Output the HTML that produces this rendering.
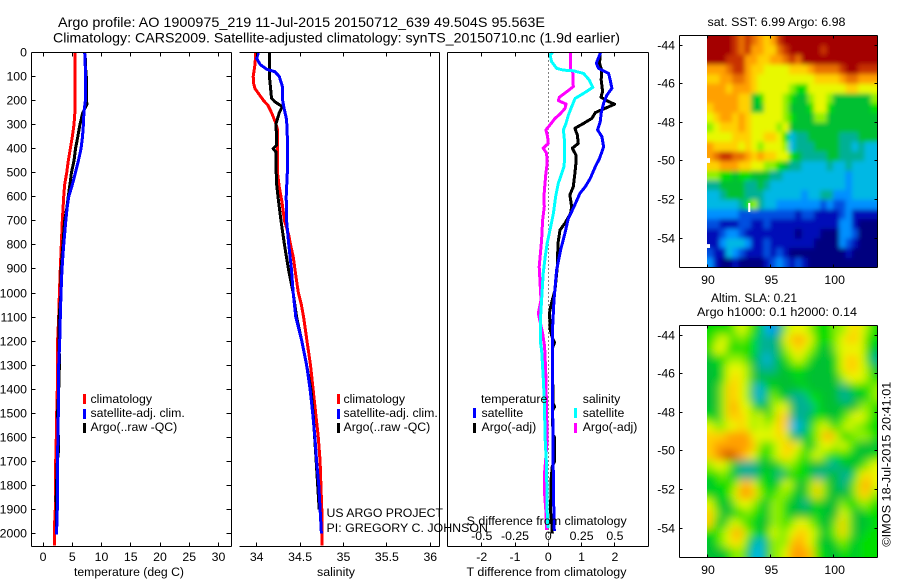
<!DOCTYPE html>
<html>
<head>
<meta charset="utf-8">
<title>Argo profile</title>
<style>
html,body{margin:0;padding:0;background:#fff;width:900px;height:580px;overflow:hidden}
svg{display:block}
text{font-family:"Liberation Sans",sans-serif;font-size:12.3px;fill:#000}
.ttl{font-size:14px}
</style>
</head>
<body>
<svg id="fig" xmlns="http://www.w3.org/2000/svg" width="900" height="580" viewBox="0 0 900 580">
<defs>
<filter id="blurSst" filterUnits="userSpaceOnUse" x="680" y="10" width="220" height="280"><feGaussianBlur stdDeviation="2.4"/></filter>
<filter id="blurSla" filterUnits="userSpaceOnUse" x="680" y="300" width="220" height="280"><feGaussianBlur stdDeviation="4.5"/></filter>
<clipPath id="clipSst"><rect x="707" y="35.5" width="170" height="232"/></clipPath>
<clipPath id="clipSla"><rect x="707" y="325" width="170" height="232"/></clipPath>
</defs>
<rect x="0" y="0" width="900" height="580" fill="#fff"/>
<text class="ttl" x="58" y="27" textLength="487" lengthAdjust="spacingAndGlyphs">Argo profile: AO 1900975_219 11-Jul-2015 20150712_639 49.504S 95.563E</text>
<text class="ttl" x="53" y="42.5" textLength="567" lengthAdjust="spacingAndGlyphs">Climatology: CARS2009. Satellite-adjusted climatology: synTS_20150710.nc (1.9d earlier)</text>
<g id="dyn"></g>

<text x="74" y="576" textLength="110" lengthAdjust="spacingAndGlyphs">temperature (deg C)</text>
<text x="317" y="576" textLength="38" lengthAdjust="spacingAndGlyphs">salinity</text>
<text x="466.5" y="576" textLength="160" lengthAdjust="spacingAndGlyphs">T difference from climatology</text>

<g>
<rect x="83" y="394" width="3" height="10" fill="#f00"/>
<text x="90.5" y="403">climatology</text>
<rect x="83" y="409" width="3" height="10" fill="#00f"/>
<text x="90.5" y="417">satellite-adj. clim.</text>
<rect x="83" y="423" width="3" height="10" fill="#000"/>
<text x="90.5" y="431">Argo(..raw -QC)</text>
</g>
<g>
<rect x="337" y="394" width="3" height="10" fill="#f00"/>
<text x="343.5" y="403">climatology</text>
<rect x="337" y="409" width="3" height="10" fill="#00f"/>
<text x="343.5" y="417">satellite-adj. clim.</text>
<rect x="337" y="423" width="3" height="10" fill="#000"/>
<text x="343.5" y="431">Argo(..raw -QC)</text>
</g>
<g>
<text x="481" y="403">temperature</text>
<rect x="473" y="408" width="3" height="10" fill="#00f"/>
<text x="481.5" y="417">satellite</text>
<rect x="473" y="423" width="3" height="10" fill="#000"/>
<text x="481.5" y="431">Argo(-adj)</text>
<text x="582.7" y="403">salinity</text>
<rect x="574" y="408" width="3" height="10" fill="#0ff"/>
<text x="582.7" y="417">satellite</text>
<rect x="574" y="423" width="3" height="10" fill="#f0f"/>
<text x="582.7" y="431">Argo(-adj)</text>
</g>

<text x="326.5" y="517" textLength="116.5" lengthAdjust="spacingAndGlyphs">US ARGO PROJECT</text>
<text x="326.5" y="532" textLength="161.5" lengthAdjust="spacingAndGlyphs">PI: GREGORY C. JOHNSON</text>
<text x="466.7" y="525" textLength="160" lengthAdjust="spacingAndGlyphs">S difference from climatology</text>

<text x="707.5" y="26" textLength="138" lengthAdjust="spacingAndGlyphs">sat. SST: 6.99 Argo: 6.98</text>
<text x="711" y="302" textLength="86" lengthAdjust="spacingAndGlyphs">Altim. SLA: 0.21</text>
<text x="697" y="316" textLength="160" lengthAdjust="spacingAndGlyphs">Argo h1000: 0.1 h2000: 0.14</text>
<text transform="translate(890.5 546.7) rotate(-90)" textLength="165" lengthAdjust="spacingAndGlyphs">©IMOS 18-Jul-2015 20:41:01</text>
</svg>

<script>
// ---------- temperature panel ----------
const tempClimDepth = [0,230,300,350,400,450,500,550,600,650,700,800,900,1000,1100,1200,1300,1400,1500,1600,1700,1800,1900,1950,2050];
const tempClimValue = [5.5,5.5,5.3,5.0,4.67,4.33,4.05,3.7,3.53,3.42,3.3,3.13,2.96,2.8,2.68,2.5,2.45,2.45,2.34,2.28,2.17,2.1,2.1,2.0,2.0];
const tempSatDepth = [0,100,200,250,300,350,400,450,500,550,600,650,700,800,900,1000,1100,1200,1300,1400,1500,1600,1700,1800,1900,2005];
const tempSatValue = [7.12,7.3,7.25,7.0,6.9,6.75,6.5,6.05,5.53,5.0,4.4,4.1,3.9,3.53,3.25,3.07,2.96,2.85,2.68,2.68,2.62,2.56,2.45,2.45,2.45,2.3];
const tempArgoDepth = [5,70,100,170,200,215,250,300,350,400,450,500,550,600,650,700,800,900,1000,1100,1200,1300,1400,1500,1650,1700,1850,1950,2000];
const tempArgoValue = [7.2,7.3,7.4,7.4,7.45,7.5,6.8,6.3,5.95,5.55,5.3,4.85,4.6,4.3,4.05,3.7,3.4,3.1,3.07,2.75,2.75,2.8,2.68,2.5,2.68,2.45,2.25,2.3,2.3];

// ---------- salinity panel ----------
const salClimDepth = [0,50,100,130,150,175,200,220,250,290,320,400,500,560,620,700,760,800,850,900,950,1000,1050,1100,1200,1300,1400,1500,1600,1700,1800,1900,2050];
const salClimValue = [33.99,33.98,33.96,33.965,33.98,34.03,34.08,34.13,34.17,34.215,34.24,34.24,34.24,34.26,34.29,34.32,34.37,34.39,34.42,34.44,34.46,34.48,34.515,34.54,34.58,34.62,34.65,34.68,34.71,34.73,34.74,34.75,34.75];
const salSatDepth = [0,25,50,70,80,100,140,200,230,280,350,500,600,700,800,900,1000,1100,1200,1300,1400,1500,1600,1700,1800,1900,2000];
const salSatValue = [34.02,34.0,34.04,34.115,34.21,34.26,34.295,34.3,34.315,34.345,34.353,34.353,34.34,34.345,34.37,34.40,34.42,34.45,34.52,34.575,34.615,34.645,34.67,34.69,34.715,34.73,34.745];
const salArgoDepth = [0,100,150,190,205,225,250,300,350,385,400,415,500,550,600,700,800,900,1000,1100,1200,1300,1400,1500,1700,1900];
const salArgoValue = [34.146,34.146,34.16,34.17,34.21,34.295,34.26,34.22,34.23,34.23,34.19,34.225,34.225,34.23,34.245,34.28,34.32,34.365,34.42,34.46,34.52,34.575,34.625,34.65,34.685,34.72];

// ---------- difference panel ----------
const dtSatDepth = [0,45,66,87,114,149,177,211,253,288,322,350,392,440,475,523,558,586,648,690,752,821,904,1029,1167,1300,1445,1640,1860,1990];
const dtSatValue = [1.57,1.44,1.51,1.81,1.86,1.91,1.76,1.66,1.59,1.56,1.48,1.61,1.66,1.54,1.41,1.26,1.11,0.95,0.75,0.60,0.50,0.37,0.25,0.17,0.12,0.12,0.13,0.14,0.16,0.18];
const dtArgoDepth = [3,45,73,114,163,186,204,215,232,250,274,295,315,343,378,398,426,461,502,558,592,641,669,710,738,793,891,988,1050,1080,1150,1190,1205,1230,1460,1473,1490,1590,1600,1700,1720,1780,1910,1950,2000];
const dtArgoValue = [1.56,1.54,1.6,1.59,1.63,1.58,1.81,1.99,1.71,1.41,1.31,1.06,0.80,0.87,0.90,0.72,0.83,0.83,0.80,0.75,0.65,0.70,0.67,0.50,0.35,0.29,0.27,0.20,0.08,0.04,0.05,0.13,0.19,0.12,0.14,0.19,0.12,0.14,0.19,0.19,0.12,0.08,0.07,0.1,0.12];
const dsSatDepth = [0,10,38,66,73,76,87,114,145,170,191,225,260,295,322,364,433,475,502,544,600,669,724,793,849,918,1029,1098,1209,1237,1348,1445,1611,1722,1888,1978];
const dsSatValue = [0.033,0.013,0.025,0.063,0.113,0.188,0.264,0.307,0.334,0.264,0.201,0.176,0.151,0.133,0.113,0.121,0.123,0.118,0.101,0.075,0.055,0.038,0.018,-0.008,-0.023,-0.038,-0.05,-0.058,-0.058,-0.05,-0.038,-0.03,-0.023,-0.013,-0.01,-0.003];
const dsArgoDepth = [0,73,80,142,163,186,200,214,232,256,274,301,322,350,378,398,419,461,502,544,600,641,697,780,891,1029,1085,1167,1223,1348,1500,1611,1763,1819,1909,1985];
const dsArgoValue = [0.168,0.168,0.183,0.188,0.138,0.083,0.075,0.133,0.126,0.088,0.05,0.013,-0.018,-0.005,0,-0.038,-0.013,-0.008,-0.018,-0.025,-0.033,-0.03,-0.043,-0.05,-0.068,-0.055,-0.075,-0.043,-0.028,-0.018,-0.013,-0.008,-0.03,-0.03,-0.018,-0.013];

// ---------- tick labels ----------
const depthTicks = [0,100,200,300,400,500,600,700,800,900,1000,1100,1200,1300,1400,1500,1600,1700,1800,1900,2000];
const tempTicks = [0,5,10,15,20,25,30];
const salTicks = [34,34.5,35,35.5,36];
const dtTicks = [-2,-1,0,1,2];
const dsTicks = [-0.5,-0.25,0,0.25,0.5];
const lonTicks = [90,95,100];
const latTicks = [-44,-46,-48,-50,-52,-54];

// ---------- map colour levels (low = dark blue, high = dark red) ----------
const levelColors = ['#00007f','#0010b8','#0050e0','#0090ff','#00b8e4','#00b094','#00c030','#00de00','#90f000','#e8f800','#ffd000','#ffa000','#e87000','#c83000','#a40000'];

// ---------- satellite SST grid: rows north to south, columns west to east ----------
const sstGrid = [
[14,14,14,14,13,12,13,12,11,10,11,13,14,14,14,14,14,14,14,14,14,14,14,14,14,14,14],
[14,14,14,14,13,12,13,11,11,10,10,12,13,14,14,14,14,14,13,14,14,14,14,14,14,14,14],
[14,14,14,13,13,13,11,11,10,10,11,11,12,13,12,14,14,14,14,14,14,14,14,14,14,14,14],
[11,11,11,12,13,13,11,10,10,9,9,9,9,10,10,10,11,12,12,12,12,13,14,14,13,13,13],
[10,10,11,11,12,12,11,10,9,9,9,9,9,9,9,9,9,10,10,10,10,11,12,12,11,11,11],
[11,11,11,10,11,11,11,10,9,9,9,9,9,8,7,7,9,9,9,9,9,9,10,10,9,9,9],
[11,11,11,11,11,10,10,6,7,9,9,9,8,7,6,6,8,9,9,8,6,6,6,6,6,6,8],
[10,11,11,11,11,10,10,6,6,9,9,9,8,6,6,6,7,9,9,7,6,6,6,6,6,6,7],
[9,10,11,11,10,11,10,9,9,9,9,9,8,7,6,6,6,8,8,6,6,6,6,6,6,6,6],
[8,9,10,10,10,11,10,9,9,9,9,8,9,6,6,6,6,6,6,6,6,6,6,6,6,6,6],
[9,9,9,9,10,10,10,9,9,10,10,9,7,4,5,5,6,6,6,6,6,5,5,5,6,6,6],
[11,10,10,10,10,9,10,9,8,9,9,9,8,4,5,5,5,6,6,6,6,5,5,4,5,4,4],
[11,12,13,13,12,12,11,10,11,10,10,9,9,7,6,5,5,5,5,6,6,5,5,5,5,4,4],
[10,10,11,11,11,10,10,9,9,8,8,7,6,5,5,4,4,4,4,5,4,4,5,4,4,4,4],
[8,8,7,7,6,7,7,6,6,6,5,5,4,4,4,4,4,4,4,4,4,4,3,4,4,4,4],
[5,5,6,6,6,6,5,5,6,5,4,4,4,4,4,4,4,4,4,4,4,4,3,4,4,4,4],
[4,4,5,6,6,6,5,5,5,4,4,4,4,4,4,3,4,4,5,5,3,3,3,4,4,4,4],
[4,4,4,4,4,5,7,8,5,4,4,3,3,3,3,3,3,3,2,3,2,2,3,3,3,3,3],
[3,3,3,3,3,2,2,2,2,2,2,2,2,2,1,2,2,1,1,1,1,2,3,1,1,1,1],
[2,2,1,1,1,2,2,1,1,2,1,1,1,1,1,1,1,1,1,1,1,3,3,1,0,0,0],
[1,1,2,3,3,2,1,1,1,1,1,1,1,1,0,1,1,1,0,0,0,3,3,2,0,0,0],
[1,1,3,4,4,4,3,1,1,2,1,1,1,1,1,1,1,0,0,0,0,3,2,1,0,0,0],
[2,1,1,4,3,2,1,1,1,2,1,2,1,0,0,0,0,0,0,0,0,0,1,0,0,0,0],
[3,1,0,0,1,0,0,0,0,1,2,3,2,1,2,1,0,0,0,0,0,0,0,0,0,0,0]
];

// ---------- altimeter SLA grid: rows north to south, columns west to east ----------
const slaGrid = [
[7,7,7,7,8,9,8,7,6,4,3,5,8,9,9,9,8,7,7,7,8,8,9,10,9,8,7],
[7,8,9,8,7,8,7,7,5,5,5,6,9,10,11,10,9,7,7,7,8,9,10,10,9,7,7],
[7,9,9,7,7,7,7,7,5,5,5,6,8,9,10,9,8,7,6,6,8,9,9,9,9,7,6],
[6,7,7,8,8,8,7,6,5,4,5,6,7,8,9,8,7,6,6,6,7,9,10,10,9,7,5],
[6,6,7,9,9,9,8,6,5,5,5,6,6,7,7,7,6,6,6,6,7,9,10,10,9,8,6],
[6,6,7,9,10,9,8,6,6,6,6,6,6,6,7,6,6,6,6,6,6,8,9,9,9,8,7],
[6,6,8,10,10,9,8,5,4,6,7,6,6,6,6,7,6,6,6,6,6,5,6,7,7,7,8],
[6,6,8,10,10,9,8,5,4,6,8,7,6,5,5,5,7,7,6,6,6,5,5,6,6,7,8],
[6,6,8,10,11,9,9,7,6,6,8,9,9,6,5,5,5,7,6,6,6,6,6,6,8,8,7],
[7,6,8,10,10,10,9,8,9,7,8,10,10,5,5,5,6,7,7,6,6,7,8,9,9,8,7],
[9,8,8,9,9,10,9,8,9,8,9,10,10,4,4,5,7,8,9,8,7,8,9,8,8,7,7],
[10,10,10,11,11,11,11,9,9,9,9,10,9,6,5,6,7,8,10,11,9,7,7,8,8,8,7],
[10,11,11,11,11,11,11,10,8,7,8,9,10,10,9,7,6,8,9,9,8,9,8,7,6,6,6],
[10,11,12,13,12,11,10,9,7,7,8,9,10,9,8,7,8,9,8,7,7,7,7,6,6,6,7],
[8,9,9,8,6,5,5,5,6,6,6,7,8,8,7,7,6,6,6,5,5,6,6,6,7,8,9],
[7,7,8,7,6,5,5,5,6,7,6,5,6,7,7,7,6,5,5,6,6,5,5,7,9,10,9],
[6,7,7,7,8,10,11,9,7,7,6,7,9,8,6,6,8,10,8,6,6,5,6,8,10,11,9],
[7,6,7,7,9,11,11,10,8,7,7,8,8,7,6,6,8,10,8,6,6,6,6,8,10,10,8],
[9,7,6,6,8,9,9,8,7,6,8,8,7,6,6,5,6,7,6,6,6,8,7,7,8,8,7],
[10,8,6,6,7,7,8,7,7,6,8,8,7,6,6,6,6,7,6,6,6,9,8,6,6,7,7],
[10,7,6,8,9,8,7,7,6,6,8,8,7,8,9,9,8,7,6,6,8,10,8,6,6,6,7],
[7,7,8,9,11,10,8,7,6,7,9,8,8,9,10,10,9,8,6,7,8,10,8,6,6,7,7],
[6,7,8,9,10,9,7,5,4,6,8,8,8,10,11,10,9,7,6,6,7,8,7,6,7,7,7],
[6,6,6,7,8,8,6,4,4,6,8,8,9,11,11,11,10,7,7,6,6,7,7,6,7,7,7]
];

// ---------- SST missing-data patches ----------
const gapLonStart = [90,90,93.25];
const gapLonEnd = [90.24,90.24,93.42];
const gapLatTop = [-49.85,-54.3,-52.17];
const gapLatBottom = [-50.1,-54.5,-52.64];

// ---------- axis functions ----------
const NS = 'http://www.w3.org/2000/svg';
const root = document.getElementById('dyn');
const depthY = d => 52.5 + d * 0.2405;
const tempX = t => 43 + t * 5.85;
const salX = s => 256.7 + (s - 34) * 86.8;
const dtX = t => 548.3 + t * 33.3;
const dsX = s => 548.3 + s * 4 * 33.3;
const lonX = l => 707 + (l - 90) * 12.67;
const sstLatY = l => 45 + (-44 - l) * 19.33;
const slaLatY = l => 335 + (-44 - l) * 19.33;

function group(parent, name) {
  const g = document.createElementNS(NS, 'g');
  
  
  parent.appendChild(g);
  return g;
}
function line(parent, name, x1, y1, x2, y2, extra) {
  const l = document.createElementNS(NS, 'line');
  
  
  l.setAttribute('x1', x1); l.setAttribute('y1', y1);
  l.setAttribute('x2', x2); l.setAttribute('y2', y2);
  l.setAttribute('stroke', '#000');
  l.setAttribute('stroke-width', '1');
  l.setAttribute('shape-rendering', 'crispEdges');
  if (extra) l.setAttribute('stroke-dasharray', extra);
  parent.appendChild(l);
}
function label(parent, name, x, y, str, anchor) {
  const t = document.createElementNS(NS, 'text');
  
  
  t.setAttribute('x', x); t.setAttribute('y', y);
  t.setAttribute('text-anchor', anchor || 'middle');
  t.textContent = str;
  parent.appendChild(t);
}
function curve(parent, name, depths, values, xf, color) {
  const p = document.createElementNS(NS, 'polyline');
  
  
  p.setAttribute('points', depths.map((d, i) => xf(values[i]).toFixed(1) + ',' + depthY(d).toFixed(1)).join(' '));
  p.setAttribute('fill', 'none');
  p.setAttribute('stroke', color);
  p.setAttribute('stroke-width', '3');
  p.setAttribute('stroke-linejoin', 'round');
  p.setAttribute('shape-rendering', 'crispEdges');
  parent.appendChild(p);
}
function heatmap(parent, name, grid, clip, filter, top) {
  const outer = group(parent, name);
  outer.setAttribute('clip-path', 'url(#' + clip + ')');
  const inner = group(outer, name + '-cells');
  inner.setAttribute('filter', 'url(#' + filter + ')');
  const cw = 170 / 27, ch = 232 / 24, pad = 14;
  grid.forEach((row, r) => row.forEach((v, c) => {
    const rect = document.createElementNS(NS, 'rect');
    
    
    const x0 = c === 0 ? 707 - pad : 707 + c * cw;
    const x1 = c === row.length - 1 ? 877 + pad : 707 + (c + 1) * cw + 0.5;
    const y0 = r === 0 ? top - pad : top + r * ch;
    const y1 = r === grid.length - 1 ? top + 232 + pad : top + (r + 1) * ch + 0.5;
    rect.setAttribute('x', x0.toFixed(2));
    rect.setAttribute('y', y0.toFixed(2));
    rect.setAttribute('width', (x1 - x0).toFixed(2));
    rect.setAttribute('height', (y1 - y0).toFixed(2));
    rect.setAttribute('fill', levelColors[v]);
    inner.appendChild(rect);
  }));
}

// ---------- temperature panel ----------
const g1 = group(root, 'temperature-panel');
curve(g1, 'temperature-climatology-line', tempClimDepth, tempClimValue, tempX, '#f00');
curve(g1, 'temperature-argo-line', tempArgoDepth, tempArgoValue, tempX, '#000');
curve(g1, 'temperature-satellite-adjusted-line', tempSatDepth, tempSatValue, tempX, '#00f');
line(g1, 'axis-top', 31.5, 52.5, 231.5, 52.5);
line(g1, 'axis-bottom', 31.5, 546.5, 231.5, 546.5);
line(g1, 'axis-left', 31.5, 52.5, 31.5, 546.5);
line(g1, 'axis-right', 231.5, 52.5, 231.5, 546.5);
depthTicks.forEach(d => {
  const y = Math.floor(depthY(d)) + 0.5;
  line(g1, 'depth-tick-left', 31.5, y, 35.5, y);
  line(g1, 'depth-tick-right', 226.5, y, 231.5, y);
  label(g1, 'depth-tick-label', 27, y + 4, String(d), 'end');
});
tempTicks.forEach(t => {
  const x = Math.floor(tempX(t)) + 0.5;
  line(g1, 'temperature-tick-top', x, 52.5, x, 56.5);
  line(g1, 'temperature-tick-bottom', x, 542.5, x, 546.5);
  label(g1, 'temperature-tick-label', tempX(t), 561, String(t));
});

// ---------- salinity panel ----------
const g2 = group(root, 'salinity-panel');
curve(g2, 'salinity-climatology-line', salClimDepth, salClimValue, salX, '#f00');
curve(g2, 'salinity-argo-line', salArgoDepth, salArgoValue, salX, '#000');
curve(g2, 'salinity-satellite-adjusted-line', salSatDepth, salSatValue, salX, '#00f');
line(g2, 'axis-top', 239.5, 52.5, 439.5, 52.5);
line(g2, 'axis-bottom', 239.5, 546.5, 439.5, 546.5);
line(g2, 'axis-right', 439.5, 52.5, 439.5, 546.5);
salTicks.forEach(s => {
  const x = Math.floor(salX(s)) + 0.5;
  line(g2, 'salinity-tick-top', x, 52.5, x, 56.5);
  line(g2, 'salinity-tick-bottom', x, 542.5, x, 546.5);
  label(g2, 'salinity-tick-label', salX(s), 561, String(s));
});

// ---------- difference panel ----------
const g3 = group(root, 'difference-panel');
line(g3, 'zero-reference-line', 548.5, 52.5, 548.5, 546.5, '1 3');
curve(g3, 'temperature-difference-argo-line', dtArgoDepth, dtArgoValue, dtX, '#000');
curve(g3, 'temperature-difference-satellite-line', dtSatDepth, dtSatValue, dtX, '#00f');
curve(g3, 'salinity-difference-argo-line', dsArgoDepth, dsArgoValue, dsX, '#f0f');
curve(g3, 'salinity-difference-satellite-line', dsSatDepth, dsSatValue, dsX, '#0ff');
line(g3, 'axis-top', 447.5, 52.5, 648.5, 52.5);
line(g3, 'axis-bottom', 447.5, 546.5, 648.5, 546.5);
line(g3, 'axis-left', 447.5, 52.5, 447.5, 546.5);
line(g3, 'axis-right', 648.5, 52.5, 648.5, 546.5);
dtTicks.forEach(t => {
  const x = Math.floor(dtX(t)) + 0.5;
  line(g3, 't-difference-tick-top', x, 52.5, x, 56.5);
  line(g3, 't-difference-tick-bottom', x, 542.5, x, 546.5);
  label(g3, 't-difference-tick-label', dtX(t), 561, String(t));
});
dsTicks.forEach(s => {
  label(g3, 's-difference-tick-label', dsX(s), 540, String(s));
});

// ---------- maps ----------
function mapAxes(parent, top, latY) {
  line(parent, 'map-axis-top', 679.5, top + 0.5, 877.5, top + 0.5);
  line(parent, 'map-axis-bottom', 679.5, top + 232.5, 877.5, top + 232.5);
  line(parent, 'map-axis-left', 679.5, top + 0.5, 679.5, top + 232.5);
  line(parent, 'map-axis-right', 877.5, top + 0.5, 877.5, top + 232.5);
  lonTicks.forEach(l => {
    const x = Math.floor(lonX(l)) + 0.5;
    line(parent, 'longitude-tick-top', x, top + 0.5, x, top + 3.5);
    line(parent, 'longitude-tick-bottom', x, top + 229.5, x, top + 232.5);
    label(parent, 'longitude-tick-label', lonX(l) + 1, top + 249, String(l));
  });
  latTicks.forEach(l => {
    const y = Math.floor(latY(l)) + 0.5;
    line(parent, 'latitude-tick-left', 679.5, y, 682.5, y);
    line(parent, 'latitude-tick-right', 874.5, y, 877.5, y);
    label(parent, 'latitude-tick-label', 675, y + 4, String(l), 'end');
  });
}
const g4 = group(root, 'sst-map');
heatmap(g4, 'sst-heatmap', sstGrid, 'clipSst', 'blurSst', 35.5);
gapLonStart.forEach((l, i) => {
  const r = document.createElementNS(NS, 'rect');
  
  
  r.setAttribute('x', lonX(l));
  r.setAttribute('y', sstLatY(gapLatTop[i]));
  r.setAttribute('width', lonX(gapLonEnd[i]) - lonX(l));
  r.setAttribute('height', sstLatY(gapLatBottom[i]) - sstLatY(gapLatTop[i]));
  r.setAttribute('fill', '#fff');
  g4.appendChild(r);
});
mapAxes(g4, 35, sstLatY);
const g5 = group(root, 'sla-map');
heatmap(g5, 'sla-heatmap', slaGrid, 'clipSla', 'blurSla', 325);
mapAxes(g5, 325, slaLatY);
</script>
</body>
</html>
